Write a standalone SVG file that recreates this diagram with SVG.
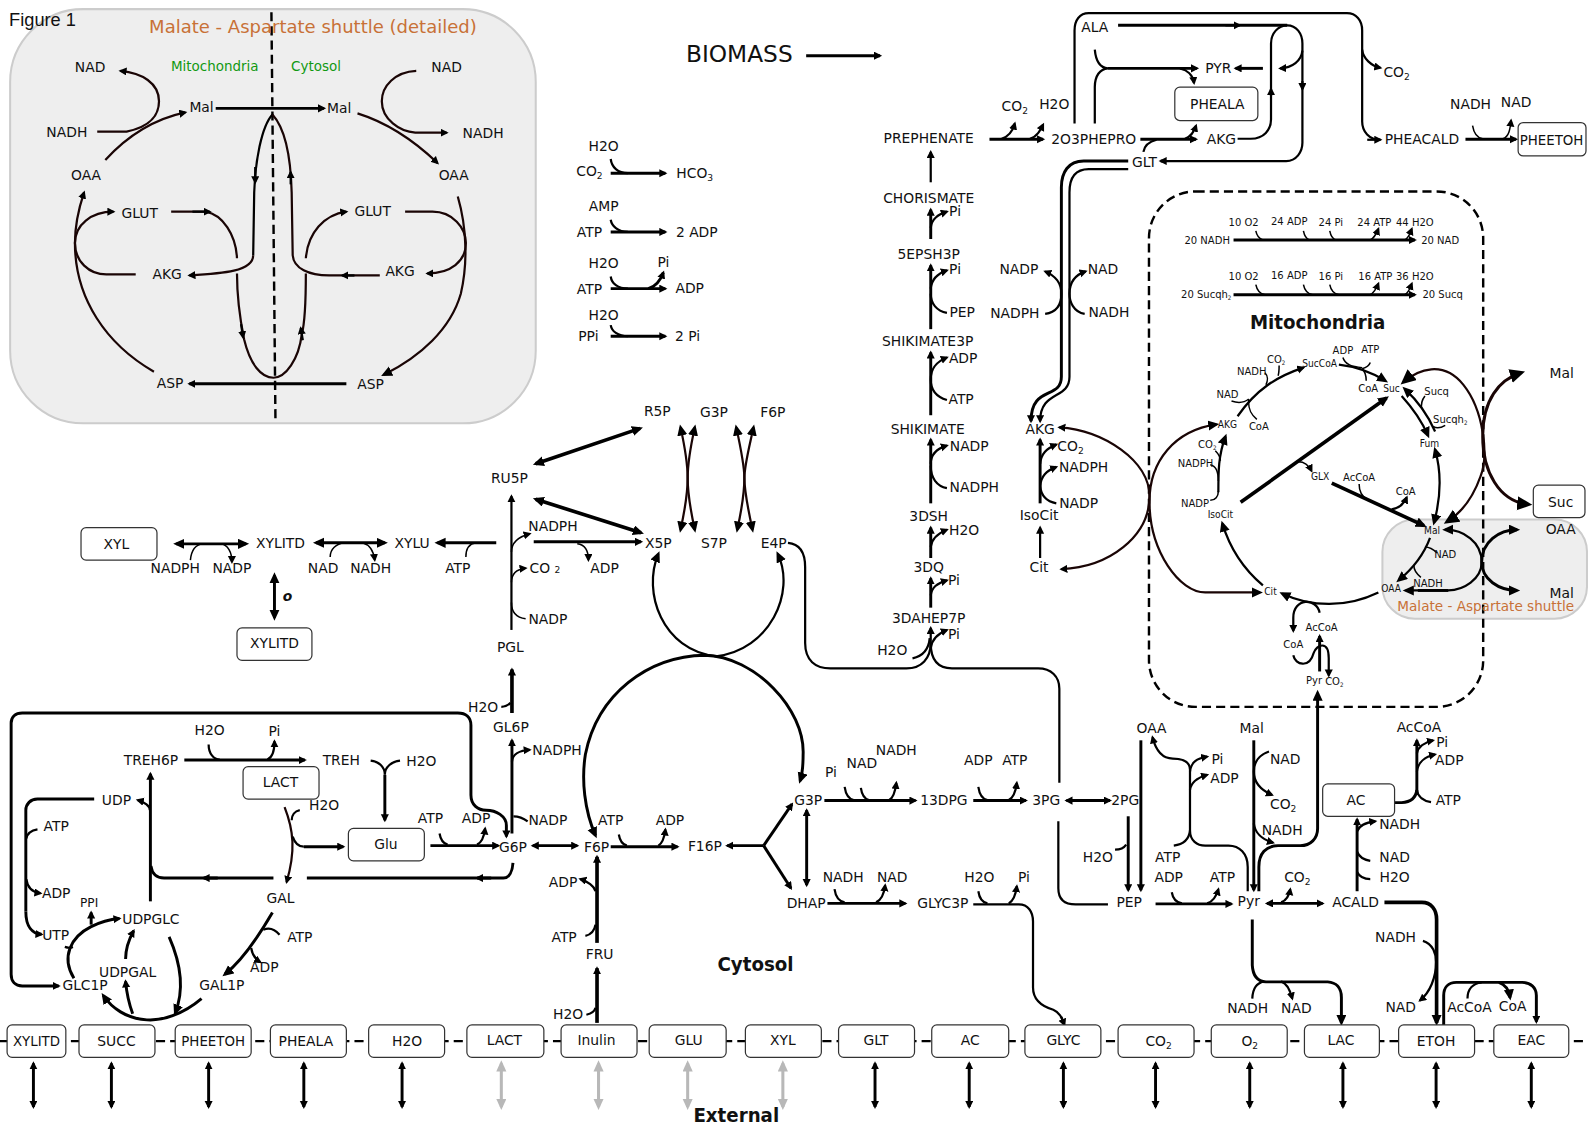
<svg xmlns="http://www.w3.org/2000/svg" width="1588" height="1127" viewBox="0 0 1588 1127">
<style>
text{font-family:"DejaVu Sans",sans-serif;font-size:13.7px;text-anchor:middle;fill:#111}
.c text,text.c{font-stretch:condensed;font-size:11px}
.sub{font-size:9px}
.fig{font-family:"Liberation Sans",sans-serif;font-size:18px;text-anchor:start}
.hd{font-size:18.5px;font-weight:bold}
.or{fill:#c87137}
.gr{fill:#119911}
path{fill:none;stroke:#000;stroke-width:2.2}
.f{stroke-width:1.5}
.t{stroke-width:2.9}
.b{stroke-width:3.6}
.k{stroke:#1a0505}
.y{stroke:#b8b8b8;stroke-width:3}
rect.n{fill:#fff;stroke:#333;stroke-width:1.2}
rect.sh{fill:#eee;stroke:#ccc;stroke-width:2}
.d{stroke-dasharray:9 5;stroke-width:2.4}
</style>
<defs>
<marker id="a" markerUnits="userSpaceOnUse" markerWidth="10" markerHeight="10" refX="6" refY="4" orient="auto-start-reverse"><path d="M0 0L8 4L0 8z" style="fill:#000;stroke:none"/></marker>
<marker id="m" markerUnits="userSpaceOnUse" markerWidth="14" markerHeight="12" refX="8" refY="5" orient="auto-start-reverse"><path d="M0 0L11 5L0 10z" style="fill:#000;stroke:none"/></marker>
<marker id="l" markerUnits="userSpaceOnUse" markerWidth="18" markerHeight="16" refX="11" refY="7" orient="auto-start-reverse"><path d="M0 0L15 7L0 14z" style="fill:#000;stroke:none"/></marker>
<marker id="g" markerUnits="userSpaceOnUse" markerWidth="14" markerHeight="12" refX="8" refY="5" orient="auto-start-reverse"><path d="M0 0L11 5L0 10z" style="fill:#b8b8b8;stroke:none"/></marker>
</defs>
<g transform="scale(1.01276)">
<g id="regions">
<rect class="sh" x="10" y="9" width="519" height="409" rx="72"/>
<rect class="sh" x="1365" y="513" width="202" height="98" rx="32"/>
<rect x="1134.500" y="189" width="330" height="509" rx="46" style="fill:none;stroke:#000;stroke-width:2.4;stroke-dasharray:9 5"/>
</g>
<g id="connectors">
<path class="d" d="M268 12L272 416"/>
<path class="t" marker-end="url(#a)" d="M213 107H320"/>
<path class="k" marker-end="url(#a)" d="M96 130H125C150 125 157 112 157 100C157 82 140 72 119 70"/>
<path class="k" marker-end="url(#a)" d="M104 158C125 135 150 118 183 111"/>
<path class="k" marker-end="url(#a)" d="M411 70C390 71 377 85 377 100C377 118 395 130 410 131H441"/>
<path class="k" marker-end="url(#a)" d="M353 112C385 122 410 140 432 161"/>
<path class="k" marker-end="url(#a)" d="M152 367C105 340 74 295 74 240C74 222 78 205 83 190"/>
<path class="k" marker-end="url(#m)" d="M452 194C461 225 462 260 455 290C445 325 415 352 379 370"/>
<path class="k" marker-end="url(#a)" d="M134 271H105C88 271 74 258 74 240C74 222 90 209 112 209"/>
<path class="k" d="M169 209H203C220 212 233 232 234 255"/>
<path marker-end="url(#a)" d="M190 209H207"/>
<path class="k" marker-end="url(#a)" d="M250 252C250 268 220 270 187 272"/>
<path d="M269 113C258 125 252 160 251 190L250 252"/>
<path marker-end="url(#a)" d="M252 165L252 180"/>
<path class="k" d="M269 113C280 125 287 150 288 190L289 252C290 265 305 272 325 272H375"/>
<path marker-end="url(#a)" d="M287 182L287 170"/>
<path marker-end="url(#a)" d="M350 272H338"/>
<path class="k" marker-end="url(#a)" d="M302 255C304 230 320 212 342 209"/>
<path class="k" marker-end="url(#a)" d="M400 209H427C447 209 460 225 460 240C460 258 445 270 422 270"/>
<path class="k" d="M234 270C234 300 238 320 241 335C247 360 258 373 270 373C282 373 295 355 298 330C302 315 302 290 302 270"/>
<path marker-end="url(#a)" d="M238 320L240 333"/>
<path marker-end="url(#a)" d="M299 336L297 324"/>
<path class="t" marker-end="url(#a)" d="M342 379H187"/>
<path class="t" marker-end="url(#a)" d="M796 55H869"/>
<path class="t" marker-end="url(#a)" d="M603 171H657"/><path d="M603 157C604 165 610 171 620 171"/>
<path class="t" marker-end="url(#a)" d="M603 229H657"/><path d="M603 217C604 223 610 229 620 229"/>
<path class="t" marker-end="url(#a)" d="M603 285H657"/><path d="M603 273C604 280 610 285 620 285"/><path class="t" marker-end="url(#a)" d="M640 285C648 283 652 277 655 269"/>
<path class="t" marker-end="url(#a)" d="M603 332H657"/><path d="M603 321C604 327 610 332 620 332"/>
<path class="t" marker-start="url(#m)" marker-end="url(#m)" d="M174 537H243"/>
<path class="f" d="M188 553C189 543 193 538 200 537"/><path class="f" marker-end="url(#a)" d="M218 537C225 538 229 545 229 555"/>
<path class="t" marker-start="url(#m)" marker-end="url(#m)" d="M312 536H380"/>
<path class="f" d="M326 550C326 542 332 537 340 536"/><path class="f" marker-end="url(#a)" d="M358 536C365 538 369 545 370 553"/>
<path class="t" marker-end="url(#m)" d="M490 536H432"/><path class="f" d="M460 550C460 543 463 537 470 536"/>
<path marker-end="url(#a)" d="M505 622V490"/>
<path class="f" marker-end="url(#a)" d="M505 545C505 535 512 530 523 527"/>
<path class="f" marker-end="url(#a)" d="M505 575C505 567 510 562 519 561"/>
<path class="f" d="M505 595C505 605 510 610 519 611"/>
<path class="t" marker-end="url(#a)" d="M527 535H633"/>
<path class="f" marker-end="url(#a)" d="M570 537C578 538 581 545 581 553"/>
<path class="b" marker-start="url(#m)" marker-end="url(#m)" d="M529 458L632 423"/>
<path class="b" marker-start="url(#m)" marker-end="url(#m)" d="M529 493L633 526"/>
<path class="k" marker-start="url(#m)" marker-end="url(#m)" d="M672 422C677 445 679 460 679 472C679 484 681 500 686 523"/>
<path class="k" marker-start="url(#m)" marker-end="url(#m)" d="M686 422C681 445 679 460 679 472C679 484 677 500 672 523"/>
<path class="k" marker-start="url(#m)" marker-end="url(#m)" d="M727 422C732 445 735 460 735 472C735 484 738 500 743 523"/>
<path class="k" marker-start="url(#m)" marker-end="url(#m)" d="M744 422C739 445 735 460 735 472C735 484 733 500 728 523"/>
<path marker-start="url(#m)" d="M650 547C634 585 654 642 707 648"/>
<path marker-end="url(#m)" d="M707 648C760 642 786 585 768 547"/>
<path d="M778 536C790 537 795 545 795 560V635C795 652 805 660 820 660H895C910 660 919 650 919 635"/>
<path d="M919 635C919 650 925 660 940 660H1025C1038 660 1046 668 1046 680V773"/>
<path d="M1045 811V877C1045 887 1050 893 1062 893H1094"/>
<path marker-end="url(#a)" d="M919 640V620"/>
<path marker-end="url(#a)" d="M919 180V150"/>
<path class="t" marker-end="url(#a)" d="M919 236V207"/><path marker-end="url(#a)" d="M919 225C920 216 926 212 935 209"/>
<path class="t" marker-end="url(#a)" d="M919 325V262"/><path marker-end="url(#a)" d="M919 285C920 275 926 270 935 267"/><path d="M919 290C919 300 925 307 935 309"/>
<path class="t" marker-end="url(#a)" d="M919 410V348"/><path marker-end="url(#a)" d="M919 375C919 363 925 357 935 353"/><path d="M919 375C919 385 925 392 935 395"/>
<path class="t" marker-end="url(#a)" d="M919 497V434"/><path marker-end="url(#a)" d="M919 458C919 448 925 443 935 440"/><path d="M919 460C919 472 925 480 935 482"/>
<path class="t" marker-end="url(#a)" d="M919 551V521"/><path marker-end="url(#a)" d="M919 540C920 532 925 527 935 523"/>
<path class="t" marker-end="url(#a)" d="M919 600V571"/><path marker-end="url(#a)" d="M919 588C920 580 925 576 935 573"/>
<path marker-end="url(#a)" d="M919 640C920 632 925 626 935 622"/><path d="M901 650C910 648 917 642 918 630"/>
<path class="t" marker-end="url(#a)" d="M1027 497V434"/>
<path marker-end="url(#a)" d="M1027 458C1028 448 1033 443 1043 439"/>
<path marker-end="url(#a)" d="M1027 480C1028 470 1033 465 1043 461"/>
<path d="M1027 480C1028 490 1033 495 1043 497"/>
<path marker-end="url(#a)" d="M1027 551V521"/>
<path class="t" marker-end="url(#a)" d="M1114 159H1070C1055 159 1048 170 1048 185V372C1048 395 1018 380 1018 416"/>
<path marker-end="url(#a)" d="M1114 167H1075C1062 167 1056 175 1056 190V372C1056 395 1027 385 1027 416"/>
<path marker-end="url(#a)" d="M1032 310C1045 308 1048 298 1048 290C1048 280 1042 272 1032 268"/>
<path marker-end="url(#a)" d="M1071 310C1060 308 1056 298 1056 290C1056 280 1060 272 1072 268"/>
<path class="k" marker-start="url(#a)" marker-end="url(#a)" d="M1046 422C1090 425 1135 455 1135 490C1135 530 1095 560 1048 562"/>
<path class="t" marker-end="url(#a)" d="M1218 237H1397"/>
<path class="f" d="M1240 228C1241 233 1244 236 1247 237M1287 228C1288 233 1290 236 1293 237M1313 228C1314 233 1316 236 1319 237"/>
<path class="f" marker-end="url(#a)" d="M1353 237C1357 235 1359 231 1361 226"/><path class="f" marker-end="url(#a)" d="M1387 237C1391 235 1392 231 1394 226"/>
<path class="t" marker-end="url(#a)" d="M1218 291H1397"/>
<path class="f" d="M1240 281C1241 286 1244 290 1249 291M1287 281C1288 286 1291 290 1296 291M1313 281C1314 286 1317 290 1322 291"/>
<path class="f" marker-end="url(#a)" d="M1353 291C1357 289 1359 285 1361 280"/><path class="f" marker-end="url(#a)" d="M1387 291C1391 289 1392 285 1394 280"/>
<path marker-end="url(#a)" d="M1222 411C1240 385 1260 372 1287 363"/>
<path class="f" d="M1216 396C1222 398 1228 398 1233 394M1233 394C1232 405 1236 410 1241 414M1249 368C1252 371 1252 376 1250 380M1263 361C1263 365 1263 368 1262 371"/>
<path marker-end="url(#m)" d="M1322 360C1340 362 1355 368 1368 376"/>
<path class="f" d="M1326 353C1328 360 1335 362 1345 363M1353 358C1352 361 1349 363 1345 364M1345 364C1349 368 1349 372 1349 376"/>
<path marker-end="url(#m)" d="M1384 391C1394 402 1404 416 1410 430"/>
<path marker-end="url(#m)" d="M1417 426C1410 410 1400 396 1387 384"/>
<path class="f" d="M1407 391C1403 396 1403 400 1404 404M1427 420C1422 423 1418 423 1415 421"/>
<path marker-start="url(#m)" marker-end="url(#m)" d="M1416 516C1423 490 1423 465 1417 444"/>
<path marker-end="url(#m)" d="M1203 486C1203 465 1203 450 1210 431"/>
<path class="f" d="M1195 494C1200 494 1203 490 1203 485M1195 459C1200 460 1203 465 1203 475M1200 445C1203 448 1205 452 1205 455"/>
<path class="b" marker-end="url(#m)" d="M1225 496L1369 393"/>
<path class="f" marker-end="url(#a)" d="M1282 456C1288 456 1292 459 1295 465"/>
<path class="b" marker-end="url(#m)" d="M1315 477L1406 519"/>
<path class="f" d="M1342 478C1342 485 1344 490 1350 493"/>
<path marker-end="url(#a)" d="M1374 503C1381 502 1386 498 1389 491"/>
<path marker-end="url(#m)" d="M1412 531C1405 550 1393 563 1381 573"/>
<path class="f" d="M1407 540C1412 540 1416 543 1419 546M1396 558C1396 563 1399 567 1403 570"/>
<path marker-end="url(#m)" d="M1361 585C1330 600 1295 600 1266 586"/>
<path marker-end="url(#m)" d="M1247 578C1228 562 1214 540 1207 517"/>
<path class="k" marker-start="url(#m)" marker-end="url(#m)" d="M1201 419C1160 425 1135 455 1135 495C1135 545 1165 585 1190 585H1244"/>
<path marker-end="url(#a)" d="M1303 605C1300 590 1277 590 1277 610V623"/>
<path class="t" marker-end="url(#a)" d="M1303 663V628"/>
<path marker-end="url(#a)" d="M1277 647C1279 657 1293 660 1297 645C1300 636 1312 632 1312 650V667"/>
<path class="k" marker-start="url(#l)" marker-end="url(#l)" d="M1386 377C1400 365 1425 355 1445 380C1465 405 1470 450 1462 470C1455 490 1445 505 1429 515"/>
<path class="k t" marker-start="url(#l)" marker-end="url(#l)" d="M1502 368C1480 375 1464 395 1464 431C1464 465 1480 495 1509 498"/>
<path marker-start="url(#m)" marker-end="url(#m)" d="M1427 523C1445 523 1463 535 1463 555C1463 572 1445 583 1430 583H1388"/>
<path class="t" d="M1430 583H1400"/>
<path class="t" marker-start="url(#m)" marker-end="url(#m)" d="M1498 523C1480 523 1463 535 1463 555C1463 572 1480 583 1498 583"/>
<path d="M1222 137H1235C1248 137 1255 128 1255 118V43C1255 33 1262 25 1271 25C1280 25 1286 33 1286 43V141C1286 150 1280 159 1270 159H1150"/>
<path marker-end="url(#a)" d="M1255 95V88"/><path marker-end="url(#a)" d="M1286 80V88"/>
<path class="t" marker-end="url(#a)" d="M1150 159H1146"/>
<path class="t" d="M1104 25H1271"/><path marker-end="url(#a)" d="M1210 25H1224"/>
<path marker-end="url(#a)" d="M1286 50C1285 60 1276 67 1264 67.500"/>
<path class="t" marker-end="url(#a)" d="M1247 67.500H1220"/>
<path d="M1061 122V30C1061 20 1066 13 1075 13H1330C1339 13 1345 20 1345 30V120C1345 130 1352 138 1363 138"/>
<path marker-end="url(#a)" d="M1350 138H1363"/>
<path marker-end="url(#a)" d="M1345 49C1346 58 1354 65 1363 67"/>
<path d="M1081 49C1082 60 1086 67 1094 67.500M1081 122V86C1081 75 1086 68 1094 67.500"/>
<path class="t" marker-end="url(#a)" d="M1094 67.500H1182"/>
<path marker-end="url(#a)" d="M1165 67.500C1172 69 1178 74 1179 82"/>
<path class="t" marker-end="url(#a)" d="M977 137.500H1030"/>
<path marker-end="url(#a)" d="M989 137C996 135 1000 129 1002 122"/><path marker-end="url(#a)" d="M1017 137C1024 135 1027 129 1030 123"/>
<path class="t" marker-end="url(#a)" d="M1126 137.500H1181"/>
<path marker-end="url(#a)" d="M1170 137C1176 135 1179 130 1181 124"/>
<path d="M1129 150C1130 144 1134 140 1142 138"/>
<path class="t" marker-end="url(#a)" d="M1447 137.500H1497"/>
<path class="f" d="M1454 124C1455 130 1458 136 1464 137"/>
<path class="f" marker-end="url(#a)" d="M1484 137C1490 135 1491 128 1492 119"/>
<path class="t" marker-start="url(#a)" marker-end="url(#a)" d="M500 826V815C500 806 490 800 480 800C472 800 465 795 465 785V716C465 708 460 704 452 704H22C15 704 11 708 11 714V962C11 969 15 973.500 22 973.500H58"/>
<path class="t" marker-end="url(#a)" d="M182 750.500H301"/>
<path d="M206 735C206 744 211 750 217 750"/><path marker-end="url(#a)" d="M264 750C269 748 271 742 271 732"/>
<path d="M366 751C374 752 380 757 380 765M395 751C387 752 380 757 380 765"/>
<path class="t" marker-end="url(#a)" d="M380 765V810"/>
<path marker-end="url(#a)" d="M148 800C148 796 143 792 136 790"/>
<path class="t" marker-end="url(#a)" d="M148.500 890V764"/>
<path class="t" d="M149 855C150 862 154 867 162 867H270M303 867H497C503 867 506 860 506.500 852"/>
<path class="t" marker-end="url(#a)" d="M215 867H201"/><path class="t" marker-end="url(#a)" d="M485 867H471"/>
<path class="t" d="M93 789H37C30 789 25.500 794 25.500 800V900"/>
<path class="t" marker-end="url(#a)" d="M25.500 900C25.500 915 32 922 41 922.500"/>
<path marker-end="url(#a)" d="M26 868C27 876 32 881 40 882"/>
<path d="M37 819C31 820 27 823 26 828"/>
<path class="k" marker-end="url(#a)" d="M281 797C290 820 292 840 283 871"/>
<path d="M296 800C291 801 288 805 288 810"/>
<path d="M289 826C291 832 294 836 300 836"/><path class="t" marker-end="url(#a)" d="M300 836H339"/>
<path class="t" marker-end="url(#a)" d="M425 835H492"/>
<path d="M434 823C435 829 438 833 442 834"/><path marker-end="url(#a)" d="M471 834C476 832 478 826 479 818"/>
<path class="t" marker-end="url(#a)" d="M505.500 823V731"/>
<path marker-end="url(#a)" d="M505.500 752C506 745 513 741 523 740.500"/>
<path d="M507 806C511 806 517 808 521 811"/>
<path class="t" marker-start="url(#a)" marker-end="url(#a)" d="M526 835H570"/>
<path class="b" marker-end="url(#a)" d="M505.500 704V661"/>
<path d="M495 698C499 698 502 696 504 694"/>
<path class="t" marker-end="url(#m)" d="M269 901C255 925 240 948 222 962"/>
<path d="M276 923C271 917 265 916 260 918"/><path marker-end="url(#a)" d="M248 936C249 942 252 947 257 950"/>
<path class="t" marker-end="url(#m)" d="M199 986C180 1002 160 1008 145 1007C125 1006 110 995 102 983"/>
<path class="t" marker-end="url(#m)" d="M167 925C178 950 183 975 173 1000"/>
<path class="t" marker-end="url(#a)" d="M131 1001C127 990 125 980 124 969"/>
<path class="t" marker-end="url(#a)" d="M124 947C124 938 127 928 132 919"/>
<path class="t" marker-end="url(#a)" d="M73 966C60 945 70 925 90 915C100 910 108 908 118 907"/>
<path class="t" marker-end="url(#a)" d="M90 913V901"/>
<path d="M64 935C67 936 70 936 72 935"/>
<path class="t" marker-start="url(#m)" marker-end="url(#m)" d="M588 825C577 800 574 770 578 745C590 685 640 648 696 647C745 648 795 700 793 745C793 755 792 765 790 771"/>
<path class="t" marker-end="url(#a)" d="M603 836H669"/>
<path d="M611 824C612 830 615 834 619 835"/><path marker-end="url(#a)" d="M650 835C654 833 656 827 657 819"/>
<path class="t" marker-end="url(#a)" d="M754 835H718"/>
<path class="t" marker-end="url(#a)" d="M754 835L782 794"/>
<path class="t" marker-end="url(#a)" d="M754 835L781 877"/>
<path class="t" marker-start="url(#a)" marker-end="url(#a)" d="M796.500 800V874"/>
<path class="t" marker-end="url(#a)" d="M814 790.500H904"/>
<path d="M834 777C835 784 838 789 843 790M850 778C851 785 854 789 858 790"/>
<path marker-end="url(#a)" d="M878 790C882 788 884 781 885 773"/>
<path class="t" marker-end="url(#a)" d="M961 790.500H1013"/>
<path d="M966 777C967 784 970 789 975 790"/><path marker-end="url(#a)" d="M996 790C1000 788 1003 781 1004 773"/>
<path class="t" marker-end="url(#a)" d="M817 892H894"/>
<path d="M824 878C825 885 828 890 834 891"/><path marker-end="url(#a)" d="M865 891C870 889 873 882 874 874"/>
<path d="M961 893H1006C1015 893 1020 900 1020 910V975C1020 988 1030 994 1040 997C1045 999 1049 1005 1050 1010"/>
<path marker-end="url(#a)" d="M1048 1004L1051 1012"/>
<path d="M966 880C967 887 970 891 975 892"/><path marker-end="url(#a)" d="M996 892C1000 890 1003 883 1004 875"/>
<path class="b" marker-end="url(#a)" d="M589.500 931V846"/>
<path marker-end="url(#a)" d="M588 880C587 875 580 870 573 868"/>
<path d="M578 924C583 923 587 919 588 913"/>
<path class="b" marker-end="url(#a)" d="M589.500 1010V956"/>
<path d="M579 1002C583 1001 587 999 588 995"/>
<path class="t" marker-start="url(#a)" marker-end="url(#a)" d="M1053 790.500H1096"/>
<path class="t" marker-end="url(#a)" d="M1114 806V879"/>
<path d="M1101 839C1106 839 1110 837 1112 834"/>
<path class="t" marker-end="url(#a)" d="M1126.500 731V879"/>
<path class="t" marker-end="url(#a)" d="M1141 892.500H1216"/>
<path d="M1157 881C1158 887 1161 891 1167 892"/><path marker-end="url(#a)" d="M1192 892C1198 890 1201 885 1203 878"/>
<path class="t" marker-start="url(#a)" marker-end="url(#a)" d="M1251 892H1306"/>
<path marker-end="url(#a)" d="M1265 891C1270 889 1273 884 1274 878"/>
<path marker-end="url(#a)" d="M1232 880V856C1232 843 1224 835 1213 835H1190C1182 835 1175 830 1175 820V760C1175 750 1165 749 1158 749C1147 749 1141 740 1138 728"/>
<path marker-end="url(#a)" d="M1175 762C1176 752 1182 749 1192 747"/>
<path marker-end="url(#a)" d="M1175 780C1176 772 1182 768 1192 765"/>
<path d="M1159 835C1167 834 1174 830 1175 820"/>
<path class="t" marker-end="url(#a)" d="M1238 731V879"/>
<path marker-end="url(#a)" d="M1253 742C1244 745 1238 752 1238 762C1238 772 1245 780 1256 785"/>
<path marker-end="url(#a)" d="M1238 813C1239 822 1246 829 1257 832"/>
<path class="t" marker-end="url(#m)" d="M1243 880V856C1243 843 1250 835 1262 835H1284C1294 835 1301 828 1301 818V684"/>
<path class="t" marker-end="url(#m)" d="M1236.500 908V953C1237 962 1240 969 1250 969.500H1311C1319 970 1324.500 975 1324.500 985V1010"/>
<path d="M1236.500 986C1237 975 1241 971 1248 969"/>
<path marker-end="url(#a)" d="M1265 969C1271 971 1274 978 1276 986"/>
<path class="b" marker-end="url(#m)" d="M1367 891H1404C1413 891 1418.500 898 1418.500 908V1010"/>
<path marker-end="url(#a)" d="M1405 929C1415 932 1418 942 1418 950C1418 965 1412 980 1402 988"/>
<path class="t" marker-end="url(#a)" d="M1425.500 1012V983C1425.500 975 1430 970 1438 970H1503C1511 970 1517 975 1517 983V1009"/>
<path d="M1449 986C1449 976 1455 971 1463 970"/>
<path class="t" marker-end="url(#m)" d="M1480 970C1486 972 1490 978 1491 985"/>
<path class="t" marker-end="url(#a)" d="M1340 880V809"/>
<path marker-end="url(#a)" d="M1340 821C1342 815 1349 812 1358 811"/>
<path d="M1340 841C1342 846 1347 849 1353 850M1340 861C1342 865 1347 868 1353 868"/>
<path class="t" d="M1377 792.500H1384C1392 792 1398 788 1399 780"/>
<path class="t" marker-end="url(#a)" d="M1399 785V731"/>
<path d="M1413 792C1406 791 1400 787 1399 780"/>
<path marker-end="url(#a)" d="M1399 762C1400 753 1407 747 1417 745"/>
<path marker-end="url(#a)" d="M1399 744C1400 738 1406 733 1415 731"/>
<path class="t" marker-start="url(#a)" marker-end="url(#a)" d="M33 1050V1093"/>
<path class="t" marker-start="url(#a)" marker-end="url(#a)" d="M110 1050V1093"/>
<path class="t" marker-start="url(#a)" marker-end="url(#a)" d="M206 1050V1093"/>
<path class="t" marker-start="url(#a)" marker-end="url(#a)" d="M300 1050V1093"/>
<path class="t" marker-start="url(#a)" marker-end="url(#a)" d="M397 1050V1093"/>
<path class="y" marker-start="url(#g)" marker-end="url(#g)" d="M495 1050V1093"/>
<path class="y" marker-start="url(#g)" marker-end="url(#g)" d="M591 1050V1093"/>
<path class="y" marker-start="url(#g)" marker-end="url(#g)" d="M679 1050V1093"/>
<path class="y" marker-start="url(#g)" marker-end="url(#g)" d="M773 1050V1093"/>
<path class="t" marker-start="url(#a)" marker-end="url(#a)" d="M864 1050V1093"/>
<path class="t" marker-start="url(#a)" marker-end="url(#a)" d="M957 1050V1093"/>
<path class="t" marker-start="url(#a)" marker-end="url(#a)" d="M1050 1050V1093"/>
<path class="t" marker-start="url(#a)" marker-end="url(#a)" d="M1141 1050V1093"/>
<path class="t" marker-start="url(#a)" marker-end="url(#a)" d="M1234 1050V1093"/>
<path class="t" marker-start="url(#a)" marker-end="url(#a)" d="M1326 1050V1093"/>
<path class="t" marker-start="url(#a)" marker-end="url(#a)" d="M1418 1050V1093"/>
<path class="t" marker-start="url(#a)" marker-end="url(#a)" d="M1512 1050V1093"/>
<path class="t" marker-start="url(#m)" marker-end="url(#m)" d="M271 568V610"/>
<path class="d" d="M0 1028H1568"/>
</g>
<g id="boxes">
<g id="b-XYL"><rect class="n" x="80" y="521" width="75" height="32" rx="5"/></g>
<g id="b-XYLITD"><rect class="n" x="234" y="620" width="74" height="32" rx="5"/></g>
<g id="b-LACT"><rect class="n" x="240" y="757" width="75" height="32" rx="5"/></g>
<g id="b-Glu"><rect class="n" x="344" y="818" width="75" height="32" rx="5"/></g>
<g id="b-PHEALA"><rect class="n" x="1160" y="86" width="82" height="33" rx="5"/></g>
<g id="b-PHEETOH"><rect class="n" x="1499" y="121" width="67" height="33" rx="5"/></g>
<g id="b-AC"><rect class="n" x="1306" y="774" width="71" height="32" rx="5"/></g>
<g id="b-Suc"><rect class="n" x="1514" y="479" width="51" height="32" rx="5"/></g>
<g id="x-XYLITD"><rect class="n" x="7" y="1012" width="58" height="32" rx="5"/></g>
<g id="x-SUCC"><rect class="n" x="78" y="1012" width="75" height="32" rx="5"/></g>
<g id="x-PHEETOH"><rect class="n" x="173" y="1012" width="75" height="32" rx="5"/></g>
<g id="x-PHEALA"><rect class="n" x="267" y="1012" width="75" height="32" rx="5"/></g>
<g id="x-H2O"><rect class="n" x="364" y="1012" width="75" height="32" rx="5"/></g>
<g id="x-LACT"><rect class="n" x="461" y="1012" width="76" height="32" rx="5"/></g>
<g id="x-Inulin"><rect class="n" x="554" y="1012" width="75" height="32" rx="5"/></g>
<g id="x-GLU"><rect class="n" x="641" y="1012" width="76" height="32" rx="5"/></g>
<g id="x-XYL"><rect class="n" x="736" y="1012" width="75" height="32" rx="5"/></g>
<g id="x-GLT"><rect class="n" x="828" y="1012" width="75" height="32" rx="5"/></g>
<g id="x-AC"><rect class="n" x="920" y="1012" width="76" height="32" rx="5"/></g>
<g id="x-GLYC"><rect class="n" x="1012" y="1012" width="75" height="32" rx="5"/></g>
<g id="x-CO2"><rect class="n" x="1104" y="1012" width="75" height="32" rx="5"/></g>
<g id="x-O2"><rect class="n" x="1196" y="1012" width="75" height="32" rx="5"/></g>
<g id="x-LAC"><rect class="n" x="1288" y="1012" width="74" height="32" rx="5"/></g>
<g id="x-ETOH"><rect class="n" x="1381" y="1012" width="75" height="32" rx="5"/></g>
<g id="x-EAC"><rect class="n" x="1475" y="1012" width="74" height="32" rx="5"/></g>
</g>
<g id="titles">
<text class="fig" x="9" y="26">Figure 1</text>
<text class="or" x="309" y="33" style="font-size:17.8px">Malate - Aspartate shuttle (detailed)</text>
<text class="or" x="1467" y="603" style="font-size:13.400px">Malate - Aspartate shuttle</text>
<text x="730" y="61" style="font-size:23px">BIOMASS</text>
<text class="hd" x="1301" y="325" style="font-stretch:condensed;font-size:20px">Mitochondria</text>
<text class="hd" x="746" y="959" style="font-stretch:condensed;font-size:20px">Cytosol</text>
<text class="hd" x="727" y="1108" style="font-stretch:condensed;font-size:20px">External</text>
<text class="gr" x="212" y="70" style="font-size:13.300px">Mitochondria</text>
<text class="gr" x="312" y="70" style="font-size:13.300px">Cytosol</text>
<text x="284" y="593" style="font-weight:bold;font-style:italic">o</text>
</g>
<g id="nodes" transform="translate(0,5)">
<g id="n1"><text x="89" y="66">NAD</text></g><g id="n2"><text x="441" y="66">NAD</text></g><g id="n3"><text x="199" y="106">Mal</text></g><g id="n4"><text x="335" y="107">Mal</text></g>
<g id="n5"><text x="66" y="130">NADH</text></g><g id="n6"><text x="477" y="131">NADH</text></g><g id="n7"><text x="85" y="173">OAA</text></g><g id="n8"><text x="448" y="173">OAA</text></g>
<g id="n9"><text x="138" y="210">GLUT</text></g><g id="n10"><text x="368" y="208">GLUT</text></g><g id="n11"><text x="165" y="270">AKG</text></g><g id="n12"><text x="395" y="268">AKG</text></g>
<g id="n13"><text x="168" y="378">ASP</text></g><g id="n14"><text x="366" y="379">ASP</text></g>
<g id="n15"><text x="596" y="144">H2O</text></g><g id="n16"><text x="582" y="169">CO<tspan class="sub" dy="3">2</tspan></text></g><g id="n17"><text x="686" y="171">HCO<tspan class="sub" dy="3">3</tspan></text></g>
<g id="n18"><text x="596" y="203">AMP</text></g><g id="n19"><text x="582" y="229">ATP</text></g><g id="n20"><text x="688" y="229">2 ADP</text></g>
<g id="n21"><text x="596" y="260">H2O</text></g><g id="n22"><text x="655" y="259">Pi</text></g><g id="n23"><text x="582" y="285">ATP</text></g><g id="n24"><text x="681" y="284">ADP</text></g>
<g id="n25"><text x="596" y="311">H2O</text></g><g id="n26"><text x="581" y="332">PPi</text></g><g id="n27"><text x="679" y="332">2 Pi</text></g>
<g id="n28"><text x="649" y="406">R5P</text></g><g id="n29"><text x="705" y="407">G3P</text></g><g id="n30"><text x="763" y="407">F6P</text></g><g id="n31"><text x="503" y="472">RU5P</text></g>
<g id="n32"><text x="650" y="536">X5P</text></g><g id="n33"><text x="705" y="536">S7P</text></g><g id="n34"><text x="764" y="536">E4P</text></g><g id="n35"><text x="277" y="536">XYLITD</text></g><g id="n36"><text x="407" y="536">XYLU</text></g>
<g id="n37"><text x="115" y="537">XYL</text></g><g id="n38"><text x="173" y="561">NADPH</text></g><g id="n39"><text x="229" y="561">NADP</text></g><g id="n40"><text x="319" y="561">NAD</text></g><g id="n41"><text x="366" y="561">NADH</text></g><g id="n42"><text x="452" y="561">ATP</text></g>
<g id="n43"><text x="546" y="519">NADPH</text></g><g id="n44"><text x="538" y="561">CO <tspan class="sub">2</tspan></text></g><g id="n45"><text x="597" y="561">ADP</text></g><g id="n46"><text x="541" y="611">NADP</text></g><g id="n47"><text x="504" y="639">PGL</text></g><g id="n48"><text x="271" y="635">XYLITD</text></g>
<g id="n49"><text x="477" y="698">H2O</text></g><g id="n50"><text x="504.500" y="718">GL6P</text></g><g id="n51"><text x="207" y="721">H2O</text></g><g id="n52"><text x="271" y="722">Pi</text></g><g id="n53"><text x="149" y="750">TREH6P</text></g><g id="n54"><text x="337" y="750">TREH</text></g><g id="n55"><text x="416" y="751">H2O</text></g>
<g id="n56"><text x="277" y="772">LACT</text></g><g id="n57"><text x="115" y="790">UDP</text></g><g id="n58"><text x="55.500" y="816">ATP</text></g><g id="n59"><text x="320" y="795">H2O</text></g><g id="n60"><text x="381" y="833">Glu</text></g><g id="n61"><text x="425" y="808">ATP</text></g><g id="n62"><text x="470" y="808">ADP</text></g><g id="n63"><text x="506.500" y="836">G6P</text></g>
<g id="n64"><text x="277" y="887">GAL</text></g><g id="n65"><text x="55.500" y="882">ADP</text></g><g id="n66"><text x="88" y="891" style="font-size:12px">PPI</text></g><g id="n67"><text x="149" y="907">UDPGLC</text></g><g id="n68"><text x="55" y="923">UTP</text></g><g id="n69"><text x="296" y="925">ATP</text></g><g id="n70"><text x="261" y="955">ADP</text></g><g id="n71"><text x="126" y="960">UDPGAL</text></g><g id="n72"><text x="84" y="973">GLC1P</text></g><g id="n73"><text x="219" y="973">GAL1P</text></g>
<g id="n74"><text x="550" y="740.500">NADPH</text></g><g id="n75"><text x="541" y="809.500">NADP</text></g><g id="n76"><text x="603" y="809.500">ATP</text></g><g id="n77"><text x="661.500" y="809.500">ADP</text></g><g id="n78"><text x="589" y="836">F6P</text></g><g id="n79"><text x="696" y="835">F16P</text></g>
<g id="n80"><text x="798" y="790">G3P</text></g><g id="n81"><text x="820.500" y="762">Pi</text></g><g id="n82"><text x="851" y="753.500">NAD</text></g><g id="n83"><text x="885" y="740">NADH</text></g><g id="n84"><text x="932" y="790">13DPG</text></g><g id="n85"><text x="966" y="750">ADP</text></g><g id="n86"><text x="1002" y="750">ATP</text></g><g id="n87"><text x="1033" y="790">3PG</text></g>
<g id="n88"><text x="796" y="892">DHAP</text></g><g id="n89"><text x="832.500" y="866">NADH</text></g><g id="n90"><text x="881" y="866">NAD</text></g><g id="n91"><text x="931" y="892">GLYC3P</text></g><g id="n92"><text x="967" y="866">H2O</text></g><g id="n93"><text x="1011" y="866">Pi</text></g>
<g id="n94"><text x="556" y="870.500">ADP</text></g><g id="n95"><text x="557" y="925">ATP</text></g><g id="n96"><text x="592" y="941.500">FRU</text></g><g id="n97"><text x="561" y="1001">H2O</text></g>
<g id="n98"><text x="917" y="136">PREPHENATE</text></g><g id="n99"><text x="917" y="195">CHORISMATE</text></g><g id="n100"><text x="917" y="251">5EPSH3P</text></g><g id="n101"><text x="916" y="337">SHIKIMATE3P</text></g><g id="n102"><text x="916" y="424">SHIKIMATE</text></g><g id="n103"><text x="917" y="509">3DSH</text></g><g id="n104"><text x="917" y="560">3DQ</text></g><g id="n105"><text x="917" y="610">3DAHEP7P</text></g>
<g id="n106"><text x="881" y="642">H2O</text></g><g id="n107"><text x="942" y="626">Pi</text></g><g id="n108"><text x="942" y="573">Pi</text></g><g id="n109"><text x="952" y="523">H2O</text></g><g id="n110"><text x="962" y="481">NADPH</text></g><g id="n111"><text x="957" y="440">NADP</text></g><g id="n112"><text x="949" y="394">ATP</text></g><g id="n113"><text x="951" y="353">ADP</text></g><g id="n114"><text x="950" y="308">PEP</text></g><g id="n115"><text x="943" y="266">Pi</text></g><g id="n116"><text x="943" y="208">Pi</text></g>
<g id="n117"><text x="1027" y="424">AKG</text></g><g id="n118"><text x="1057" y="440">CO<tspan class="sub" dy="3">2</tspan></text></g><g id="n119"><text x="1070" y="461">NADPH</text></g><g id="n120"><text x="1065" y="497">NADP</text></g><g id="n121"><text x="1026" y="508">IsoCit</text></g><g id="n122"><text x="1026" y="560">Cit</text></g>
<g id="n123"><text x="1006" y="266">NADP</text></g><g id="n124"><text x="1002" y="309">NADPH</text></g><g id="n125"><text x="1089" y="266">NAD</text></g><g id="n126"><text x="1095" y="308">NADH</text></g>
<g id="n127"><text x="1081" y="27">ALA</text></g><g id="n128"><text x="1203" y="67.500">PYR</text></g><g id="n129"><text x="1202" y="103">PHEALA</text></g><g id="n130"><text x="1379" y="71">CO<tspan class="sub" dy="3">2</tspan></text></g><g id="n131"><text x="1002" y="105">CO<tspan class="sub" dy="3">2</tspan></text></g><g id="n132"><text x="1041" y="103">H2O</text></g>
<g id="n133"><text x="1452" y="103">NADH</text></g><g id="n134"><text x="1497" y="101">NAD</text></g><g id="n135"><text x="1080" y="137.500">2O3PHEPRO</text></g><g id="n136"><text x="1206" y="137.500">AKG</text></g><g id="n137"><text x="1404" y="137.500">PHEACALD</text></g><g id="n138"><text x="1532" y="138" style="font-size:13.200px">PHEETOH</text></g><g id="n139"><text x="1130" y="160">GLT</text></g>
<g id="n140"><text x="1137" y="719">OAA</text></g><g id="n141"><text x="1236" y="719">Mal</text></g><g id="n142"><text x="1202" y="749.500">Pi</text></g><g id="n143"><text x="1209" y="768.500">ADP</text></g><g id="n144"><text x="1269" y="749.500">NAD</text></g><g id="n145"><text x="1267" y="794">CO<tspan class="sub" dy="3">2</tspan></text></g><g id="n146"><text x="1266" y="819.500">NADH</text></g>
<g id="n147"><text x="1401" y="718">AcCoA</text></g><g id="n148"><text x="1424" y="733">Pi</text></g><g id="n149"><text x="1431" y="750.500">ADP</text></g><g id="n150"><text x="1430" y="790">ATP</text></g><g id="n151"><text x="1339" y="790">AC</text></g><g id="n152"><text x="1382" y="813.500">NADH</text></g><g id="n153"><text x="1377" y="846.500">NAD</text></g><g id="n154"><text x="1377" y="866">H2O</text></g>
<g id="n155"><text x="1111" y="790">2PG</text></g><g id="n156"><text x="1084" y="846">H2O</text></g><g id="n157"><text x="1153" y="846.500">ATP</text></g><g id="n158"><text x="1154" y="865.500">ADP</text></g><g id="n159"><text x="1207" y="865.500">ATP</text></g><g id="n160"><text x="1281" y="866">CO<tspan class="sub" dy="3">2</tspan></text></g><g id="n161"><text x="1115" y="891">PEP</text></g><g id="n162"><text x="1233" y="889.500">Pyr</text></g><g id="n163"><text x="1338.500" y="891">ACALD</text></g>
<g id="n164"><text x="1378" y="925.500">NADH</text></g><g id="n165"><text x="1232" y="995.500">NADH</text></g><g id="n166"><text x="1280" y="995.500">NAD</text></g><g id="n167"><text x="1383" y="994.500">NAD</text></g><g id="n168"><text x="1451" y="994.500">AcCoA</text></g><g id="n169"><text x="1493.500" y="993">CoA</text></g>
<g id="n170"><text x="1542" y="368">Mal</text></g><g id="n171"><text x="1541" y="496">Suc</text></g><g id="n172"><text x="1541" y="522">OAA</text></g><g id="n173"><text x="1542" y="585">Mal</text></g>
<g id="e1"><text x="36" y="1028" style="font-size:13.200px">XYLITD</text></g><g id="e2"><text x="115" y="1028">SUCC</text></g><g id="e3"><text x="210.500" y="1028" style="font-size:13.200px">PHEETOH</text></g><g id="e4"><text x="302" y="1028">PHEALA</text></g><g id="e5"><text x="402" y="1028">H2O</text></g><g id="e6"><text x="498" y="1027">LACT</text></g><g id="e7"><text x="589" y="1027">Inulin</text></g><g id="e8"><text x="680" y="1027">GLU</text></g><g id="e9"><text x="773" y="1027">XYL</text></g><g id="e10"><text x="865" y="1027">GLT</text></g><g id="e11"><text x="958" y="1027">AC</text></g><g id="e12"><text x="1050" y="1027">GLYC</text></g><g id="e13"><text x="1144" y="1028">CO<tspan class="sub" dy="3">2</tspan></text></g><g id="e14"><text x="1234" y="1028">O<tspan class="sub" dy="3">2</tspan></text></g><g id="e15"><text x="1324" y="1027">LAC</text></g><g id="e16"><text x="1418" y="1028">ETOH</text></g><g id="e17"><text x="1512" y="1027">EAC</text></g>
</g>
<g id="mito-nodes" class="c" transform="translate(0,4)">
<g id="m1"><text x="1228" y="219">10 O2</text></g><g id="m2"><text x="1273" y="218">24 ADP</text></g><g id="m3"><text x="1314" y="219">24 Pi</text></g><g id="m4"><text x="1357" y="219">24 ATP</text></g><g id="m5"><text x="1397" y="219">44 H2O</text></g><g id="m6"><text x="1192" y="237">20 NADH</text></g><g id="m7"><text x="1422" y="237">20 NAD</text></g>
<g id="m8"><text x="1228" y="272.500">10 O2</text></g><g id="m9"><text x="1273" y="271.500">16 ADP</text></g><g id="m10"><text x="1314" y="272.500">16 Pi</text></g><g id="m11"><text x="1358" y="272.500">16 ATP</text></g><g id="m12"><text x="1397" y="272.500">36 H2O</text></g><g id="m13"><text x="1191" y="290.500">20 Sucqh<tspan class="sub" dy="2" style="font-size:6px">2</tspan></text></g><g id="m14"><text x="1424.500" y="290.500">20 Sucq</text></g>
<g id="m15"><text x="1326" y="346">ADP</text></g><g id="m16"><text x="1353" y="344.500">ATP</text></g><g id="m17"><text x="1260" y="354.500">CO<tspan dy="2" style="font-size:6px">2</tspan></text></g><g id="m18"><text x="1303" y="358.500" style="font-size:10px">SucCoA</text></g><g id="m19"><text x="1236" y="366">NADH</text></g><g id="m20"><text x="1212" y="389">NAD</text></g><g id="m21"><text x="1351" y="383">CoA</text></g><g id="m22"><text x="1374" y="383.500" style="font-size:10px">Suc</text></g><g id="m23"><text x="1418.500" y="386">Sucq</text></g><g id="m24"><text x="1432" y="413.500">Sucqh<tspan dy="2" style="font-size:6px">2</tspan></text></g>
<g id="m25"><text x="1212" y="418.500" style="font-size:10px">AKG</text></g><g id="m26"><text x="1243" y="421">CoA</text></g><g id="m27"><text x="1411.500" y="437" style="font-size:10px">Fum</text></g><g id="m28"><text x="1192" y="438.500">CO<tspan dy="2" style="font-size:6px">2</tspan></text></g><g id="m29"><text x="1180.500" y="457">NADPH</text></g><g id="m30"><text x="1303.500" y="470" style="font-size:10px">GLX</text></g><g id="m31"><text x="1342" y="470.500">AcCoA</text></g><g id="m32"><text x="1388" y="484.500">CoA</text></g><g id="m33"><text x="1180" y="496.500">NADP</text></g><g id="m34"><text x="1205" y="507" style="font-size:10px">IsoCit</text></g>
<g id="m35"><text x="1414" y="523.500" style="font-size:10px">Mal</text></g><g id="m36"><text x="1427" y="547">NAD</text></g><g id="m37"><text x="1410" y="576">NADH</text></g><g id="m38"><text x="1373.500" y="581" style="font-size:10px">OAA</text></g><g id="m39"><text x="1254.500" y="584" style="font-size:10px">Cit</text></g><g id="m40"><text x="1305" y="619">AcCoA</text></g><g id="m41"><text x="1277" y="635.500">CoA</text></g><g id="m42"><text x="1297.500" y="671.500">Pyr</text></g><g id="m43"><text x="1317.500" y="672.500">CO<tspan dy="2" style="font-size:6px">2</tspan></text></g>
</g>
</g>
</svg>
